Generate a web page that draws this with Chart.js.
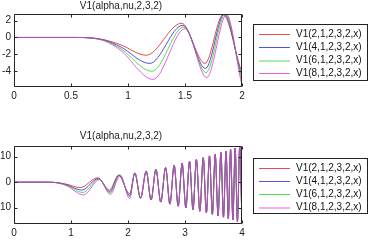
<!DOCTYPE html>
<html lang="en">
<head>
<meta charset="UTF-8">
<title>V1(alpha,nu,2,3,2)</title>
<script src="https://cdn.jsdelivr.net/npm/chart.js"></script>
<style>
    body { margin: 0; background: #fff; width: 374px; height: 250px; position: relative; overflow: hidden;
           font-family: "Liberation Sans", Arial, sans-serif; }
    canvas { position: absolute; left: 0; }
    #topChart { top: 0; }
    #bottomChart { top: 130px; }
    .legend { position: absolute; left: 253px; width: 115px; border: 1px solid #222; box-sizing: border-box;
              padding-top: 3px; font-size: 10px; color: #111; }
    .legend .row { position: relative; height: 12.9px; line-height: 12.9px; padding-left: 42px; white-space: nowrap; }
    .legend .row span { position: absolute; left: 5px; top: 6px; width: 31px; height: 0; border-top: 1px solid; }
</style>
</head>
<body>
<canvas id="topChart" width="256" height="105"></canvas>
<canvas id="bottomChart" width="256" height="111"></canvas>
<div class="legend" id="legendTop" style="top:24px;height:57px"></div>
<div class="legend" id="legendBottom" style="top:158px;height:56px"></div>

<script>
    // values: extrema of each curve, then the shared fast oscillation
    const legendLabels = ['V1(2,1,2,3,2,x)', 'V1(4,1,2,3,2,x)', 'V1(6,1,2,3,2,x)', 'V1(8,1,2,3,2,x)'];
    const colors = ['rgba(225,30,30,0.8)', 'rgba(40,40,215,0.8)', 'rgba(40,215,40,0.8)', 'rgba(230,40,230,0.75)'];

    const redX = [0, 0.55, 0.7, 0.8, 0.93, 1.16, 1.47, 1.675, 1.835, 2.03];
    const redY = [0, 0, -0.08, -0.3, -0.84, -2.12, 1.7, -3.1, 2.75, -4.6];
    const blueX = [0, 0.55, 0.7, 0.8, 0.93, 1.19, 1.48, 1.68, 1.845, 2.03];
    const blueY = [0, 0, -0.09, -0.35, -1.08, -3.1, 1.45, -3.7, 2.8, -5.2];
    const greenX = [0, 0.55, 0.7, 0.8, 0.93, 1.21, 1.49, 1.685, 1.855, 2.03];
    const greenY = [0, 0, -0.1, -0.4, -1.28, -4.04, 1.25, -4.2, 2.8, -5.8];
    const magentaX = [0, 0.55, 0.7, 0.8, 0.93, 1.22, 1.5, 1.69, 1.865, 2.03];
    const magentaY = [0, 0, -0.11, -0.45, -1.48, -5.0, 1.05, -4.8, 2.75, -6.5];

    // past x≈2.1 all four curves lie on top of each other
    const tailX = [2.12, 2.22, 2.32, 2.405, 2.49, 2.575, 2.66, 2.735, 2.81, 2.88, 2.95, 3.015, 3.08, 3.14, 3.2, 3.26,
                   3.32, 3.375, 3.43, 3.48, 3.53, 3.58, 3.63, 3.675, 3.72, 3.76, 3.8, 3.84, 3.88, 3.92, 3.96, 4.0];
    const tailY = [3.6, -6.3, 4.3, -7.0, 5.0, -7.8, 5.7, -8.6, 6.6, -9.4, 7.4, -10.1, 8.2, -10.8, 8.9, -11.4,
                   9.6, -12.0, 10.3, -12.6, 10.9, -13.2, 11.6, -13.7, 12.2, -14.3, 12.8, -14.8, 13.4, -15.5, 14.1, -16.2];

    const topXTicks = [0, 0.5, 1, 1.5, 2];
    const topYTicks = [-4, -2, 0, 2];
    const bottomXTicks = [0, 1, 2, 3, 4];
    const bottomYTicks = [-10, 0, 10];

    const heads = [[redX, redY], [blueX, blueY], [greenX, greenY], [magentaX, magentaY]];

    function seriesPoints(hx, hy) {
        const xs = hx.concat(tailX), ys = hy.concat(tailY);
        return xs.map((x, i) => ({ x: x, y: ys[i] }));
    }

    const font = { family: '"Liberation Sans", Arial, sans-serif', size: 10, weight: 'normal' };

    // MATLAB-like box with inward ticks on all four sides
    const boxPlugin = {
        id: 'box',
        afterDatasetsDraw(chart) {
            const { ctx, chartArea: a, scales } = chart;
            const l = Math.round(a.left) + 0.5, r = Math.round(a.right) - 0.5;
            const t = Math.round(a.top) + 0.5, b = Math.round(a.bottom) - 0.5;
            ctx.save();
            ctx.strokeStyle = '#262626';
            ctx.lineWidth = 1;
            ctx.beginPath();
            ctx.rect(l, t, r - l, b - t);
            scales.x.ticks.forEach(tk => {
                const p = Math.round(scales.x.getPixelForValue(tk.value)) + 0.5;
                ctx.moveTo(p, b); ctx.lineTo(p, b - 3);
                ctx.moveTo(p, t); ctx.lineTo(p, t + 3);
            });
            scales.y.ticks.forEach(tk => {
                const p = Math.round(scales.y.getPixelForValue(tk.value)) + 0.5;
                ctx.moveTo(l, p); ctx.lineTo(l + 3, p);
                ctx.moveTo(r, p); ctx.lineTo(r - 3, p);
            });
            ctx.stroke();
            ctx.restore();
        }
    };

    function makeChart(id, xMax, yMin, yMax, xTicks, yTicks, titlePad, xAxisH) {
        new Chart(document.getElementById(id), {
            type: 'line',
            data: {
                datasets: heads.map((h, i) => ({
                    label: legendLabels[i],
                    data: seriesPoints(h[0], h[1]),
                    borderColor: colors[i],
                    borderWidth: 1,
                    pointRadius: 0,
                    cubicInterpolationMode: 'monotone',
                    order: 4 - i
                }))
            },
            options: {
                responsive: false,
                animation: false,
                layout: { padding: { left: 0, right: 14, top: 0, bottom: 0 } },
                plugins: {
                    legend: { display: false },
                    tooltip: { enabled: false },
                    title: {
                        display: true,
                        text: 'V1(alpha,nu,2,3,2)',
                        font: font,
                        color: '#222',
                        padding: { top: 0, bottom: titlePad }
                    }
                },
                scales: {
                    x: {
                        type: 'linear', min: 0, max: xMax,
                        grid: { display: false, drawTicks: false },
                        border: { display: false },
                        ticks: { font: font, color: '#222', padding: 3, maxRotation: 0, callback: v => String(v) },
                        afterBuildTicks: s => { s.ticks = xTicks.map(v => ({ value: v })); },
                        afterFit: s => { s.height = xAxisH; }
                    },
                    y: {
                        min: yMin, max: yMax,
                        grid: { display: false, drawTicks: false },
                        border: { display: false },
                        ticks: { font: font, color: '#222', padding: 3, callback: v => String(v) },
                        afterBuildTicks: s => { s.ticks = yTicks.map(v => ({ value: v })); },
                        afterFit: s => { s.width = 14; }
                    }
                }
            },
            plugins: [boxPlugin]
        });
    }

    makeChart('topChart', 2, -5.95, 2.8, topXTicks, topYTicks, 2, 17.7);
    makeChart('bottomChart', 4, -16.4, 14.3, bottomXTicks, bottomYTicks, 3.7, 17);

    function makeLegend(id, thickIndex) {
        const box = document.getElementById(id);
        legendLabels.forEach((lab, i) => {
            const row = document.createElement('div');
            row.className = 'row';
            const line = document.createElement('span');
            line.style.borderTopColor = colors[i];
            if (i === thickIndex) {
                line.style.borderTopWidth = '2px';
                line.style.opacity = '0.5';
            }
            row.appendChild(line);
            row.appendChild(document.createTextNode(lab));
            box.appendChild(row);
        });
    }

    makeLegend('legendTop', 2);
    makeLegend('legendBottom', 3);
</script>
</body>
</html>
